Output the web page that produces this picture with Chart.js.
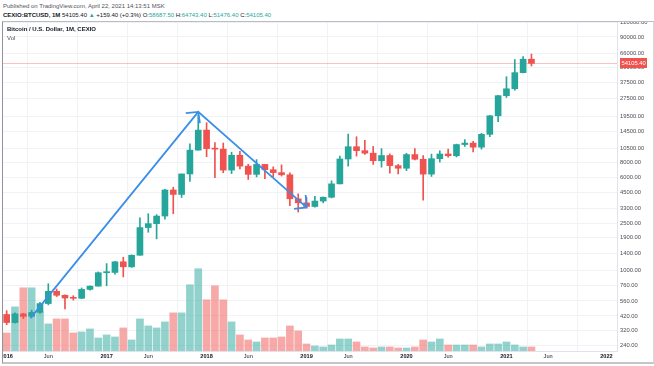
<!DOCTYPE html>
<html><head><meta charset="utf-8">
<script src="https://cdn.jsdelivr.net/npm/chart.js@4.4.1/dist/chart.umd.min.js"></script>
<style>
html,body{margin:0;padding:0;background:#fff;width:654px;height:366px;overflow:hidden;font-family:"Liberation Sans",Arial,sans-serif;}
.t{position:absolute;white-space:nowrap;line-height:8px;}
#l1{left:3px;top:2px;font-size:6px;color:#50535e;}
#l2{left:3px;top:11px;font-size:6px;color:#131722;}
#l2 .g{color:#26a69a;}
#l3{left:7px;top:25px;font-size:6px;color:#131722;font-weight:bold;z-index:3;}
#l4{left:7px;top:34px;font-size:6px;color:#50535e;z-index:3;}
#frame{position:absolute;left:2px;top:21px;width:650px;height:340px;border-top:1px solid #b8bcc4;border-left:1px solid #8f939b;border-right:1px solid #d6d8dc;border-bottom:2px solid #c4c6ca;z-index:2;pointer-events:none;}
#c{position:absolute;left:3px;top:22px;}
</style></head>
<body>
<div class="t" id="l1">Published on TradingView.com, April 22, 2021 14:13:51 MSK</div>
<div class="t" id="l2"><b>CEXIO:BTCUSD, 1M</b> 54105.40 <span class="g">▲</span> +159.40 (+0.3%) O:<span class="g">58687.50</span> H:<span class="g">64743.40</span> L:<span class="g">51476.40</span> C:<span class="g">54105.40</span></div>
<div class="t" id="l3">Bitcoin / U.S. Dollar, 1M, CEXIO</div>
<div class="t" id="l4">Vol</div>
<div id="frame"></div>
<canvas id="c" width="650" height="341"></canvas>
<script>
// Monthly candles, Jan 2016 (index 0) .. Apr 2021 (index 63)
const open  = [432,370,437,417,450,533,675,625,593,590,700,745,
               965,970,1190,1080,1350,2300,2480,2870,4740,4350,6450,10200,
               15000,10500,10400,6950,9250,7500,6400,7750,7000,6620,6350,4000,
               3700,3450,3830,4120,5330,8600,10900,10100,9620,8320,9200,7570,
               7200,9370,8560,6430,8650,9470,9160,11360,11680,10800,13820,19750,
               29100,33200,45300,58687.5];
const high  = [465,445,442,470,545,780,705,630,620,720,750,980,
               1150,1200,1300,1360,2780,3000,2950,4800,5000,6450,11500,20000,
               17300,11800,11700,9800,9990,7780,8500,7770,7400,7680,6600,4400,
               4100,4200,4150,5650,9100,13900,13200,12300,10950,10500,9500,7750,
               9600,10500,9200,9450,10080,10400,11450,12480,12080,14100,19950,29300,
               41900,58300,61800,64743.4];
const low   = [355,365,400,412,440,520,610,480,570,585,690,745,
               750,940,890,1070,1350,2100,1850,2700,3000,4100,5600,10200,
               9000,6000,6600,6500,7100,5800,6100,5900,6100,6200,3500,3100,
               3350,3400,3700,4070,5330,7500,9100,9400,7750,7350,6550,6450,
               6880,8450,3900,6150,8100,8900,8950,10950,9850,10400,13200,17600,
               28100,32300,45000,51476.4];
const close = [370,437,417,450,533,675,625,593,590,700,745,965,
               970,1190,1080,1350,2300,2480,2870,4740,4350,6450,10200,15000,
               10500,10400,6950,9250,7500,6400,7750,7000,6620,6350,4000,3700,
               3450,3830,4120,5330,8600,10900,10100,9620,8320,9200,7570,7200,
               9370,8560,6430,8650,9470,9160,11360,11680,10800,13820,19750,29100,
               33200,45300,58687.5,54105.4];
const volume = [18,44,63,63,39,27,32,32,18,19,22,13,
                16,14,23,11,32,25,23,29,38,38,66,82,
                51,65,51,29,16,11,9,13,13,14,25,20,
                7,5,4,6,12,12,9,4,3,4,4,3,
                3,4,11,9,12,6,6,6,6,4,7,7,
                9,6,4,4];
// Time axis labels (month index from Jan 2016)
const tickIdx  = [0,5,12,17,24,29,36,41,48,53,60,65,72];
const tickText = ['2016','Jun','2017','Jun','2018','Jun','2019','Jun','2020','Jun','2021','Jun','2022'];
// Price axis labels
const priceTicks = [240,320,420,560,760,1000,1400,1900,2500,3300,4500,6000,8000,10500,14500,19500,27500,37500,50000,66000,90000,120000];
// Hand-drawn trend arrows (month index, price)
const trendX = [2.86, 23.0, 36.0];
const trendP = [403, 21300, 3390];
const headAX = [21.5, 23.0, 23.2];
const headAP = [20780, 21300, 17160];
const headBX = [34.5, 36.0, 35.9];
const headBP = [3300, 3390, 4300];

const UP='#26a69a', DN='#ef5350', UPV='rgba(38,166,154,0.5)', DNV='rgba(239,83,80,0.5)', BLUE='#3b8fe6';
const isUp = close.map((c,i)=>c>=open[i]);
const pts = (xs,ps)=>xs.map((x,i)=>({x:x,y:ps[i]}));

const lastPrice = {
  id:'lastPrice',
  beforeDatasetsDraw(chart){
    const {ctx, chartArea:a, scales:{y}} = chart;
    const py = Math.round(y.getPixelForValue(close[close.length-1]))+0.5;
    ctx.save(); ctx.strokeStyle='rgba(239,83,80,0.35)'; ctx.lineWidth=1;
    ctx.beginPath(); ctx.moveTo(a.left,py); ctx.lineTo(a.right,py); ctx.stroke(); ctx.restore();
  },
  afterDraw(chart){
    const {ctx, chartArea:a, scales:{y}} = chart;
    const py = y.getPixelForValue(close[close.length-1]);
    ctx.save();
    ctx.fillStyle=DN; ctx.fillRect(a.right+3, Math.round(py-5), 27, 10);
    ctx.fillStyle='#fff'; ctx.font='5.8px "Liberation Sans", Arial, sans-serif';
    ctx.textBaseline='middle'; ctx.textAlign='left';
    ctx.fillText(close[close.length-1].toFixed(2), a.right+4.5, Math.round(py-5)+5);
    ctx.restore();
  }
};

new Chart(document.getElementById('c'), {
  type:'bar',
  data:{datasets:[
    {type:'line', data:pts(trendX,trendP), borderColor:BLUE, borderWidth:1.8, pointRadius:0, fill:false, tension:0, order:0},
    {type:'line', data:pts(headAX,headAP), borderColor:BLUE, borderWidth:1.8, pointRadius:0, fill:false, tension:0, order:0},
    {type:'line', data:pts(headBX,headBP), borderColor:BLUE, borderWidth:1.8, pointRadius:0, fill:false, tension:0, order:0},
    {type:'bar', data:open.map((o,i)=>({x:i,y:[o,close[i]]})), backgroundColor:isUp.map(u=>u?UP:DN),
      barThickness:6, minBarLength:1, grouped:false, borderWidth:0, order:1},
    {type:'bar', data:low.map((l,i)=>({x:i,y:[l,high[i]]})), backgroundColor:isUp.map(u=>u?UP:DN),
      barThickness:1, grouped:false, borderWidth:0, order:2},
    {type:'bar', yAxisID:'v', data:volume.map((v,i)=>({x:i,y:v})), backgroundColor:isUp.map(u=>u?UPV:DNV),
      barThickness:7, grouped:false, borderWidth:0, order:3}
  ]},
  options:{
    responsive:false, animation:false, devicePixelRatio:1,
    layout:{padding:0, autoPadding:false},
    plugins:{legend:{display:false}, tooltip:{enabled:false}},
    scales:{
      x:{type:'linear', position:'bottom', min:-0.44, max:73.27, offset:false,
        afterBuildTicks:s=>{s.ticks=tickIdx.map(v=>({value:v}));},
        afterFit:s=>{s.height=12; s.paddingLeft=0; s.paddingRight=0;},
        grid:{color:'#f0f2f5', drawTicks:false},
        border:{display:true, color:'#e0e3eb'},
        ticks:{autoSkip:false, maxRotation:0, padding:2, color:'#131722',
          font:c=>({size:5.6, family:'"Liberation Sans", Arial, sans-serif', weight:(/^\d/.test(tickText[c.index]||''))?'bold':'normal'}),
          callback:(v,i)=>tickText[i]}
      },
      y:{type:'logarithmic', position:'right', min:214, max:120000,
        afterBuildTicks:s=>{s.ticks=priceTicks.map(v=>({value:v}));},
        afterFit:s=>{s.width=36; s.paddingTop=0; s.paddingBottom=0;},
        grid:{color:'#f0f2f5', drawTicks:false},
        border:{display:true, color:'#e0e3eb'},
        ticks:{autoSkip:false, padding:3, color:'#4a4d55',
          font:{size:5.8, family:'"Liberation Sans", Arial, sans-serif'},
          callback:v=>Number(v).toFixed(2)}
      },
      v:{type:'linear', display:false, min:0, max:Math.max(...volume)*4.0}
    }
  },
  plugins:[lastPrice]
});
</script>
</body></html>
